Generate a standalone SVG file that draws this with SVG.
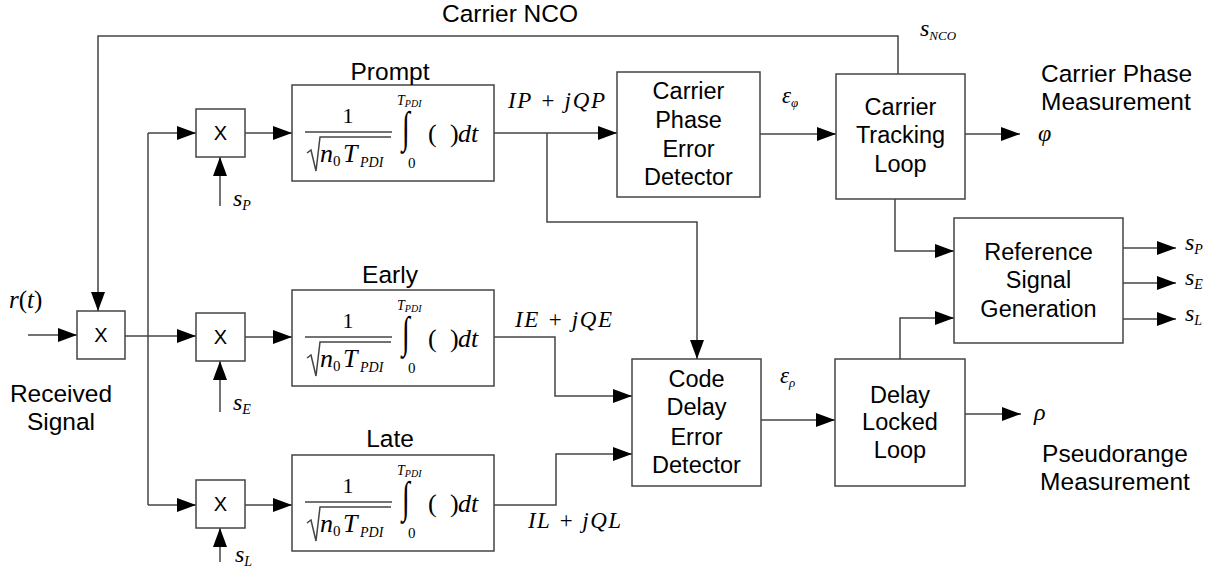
<svg xmlns="http://www.w3.org/2000/svg" width="1217" height="582" viewBox="0 0 1217 582">
<defs>
<marker id="arr" markerUnits="userSpaceOnUse" markerWidth="19" markerHeight="14" refX="19" refY="7" orient="auto">
<path d="M0,0 L19,7 L0,14 z" fill="#000"/>
</marker>
<style>
.box{fill:#fff;stroke:#444;stroke-width:1.5}
.ln{fill:none;stroke:#444;stroke-width:1.5}
.ar{fill:none;stroke:#444;stroke-width:1.5;marker-end:url(#arr)}
.lbl{font-family:"Liberation Sans",Arial,sans-serif;font-size:24.5px;fill:#000}
.bt{font-family:"Liberation Sans",Arial,sans-serif;font-size:23.5px;fill:#000;text-anchor:middle}
.mx{font-family:"Liberation Sans",Arial,sans-serif;font-size:20px;fill:#000;text-anchor:middle}
.m{font-family:"Liberation Serif","Times New Roman",serif;font-style:italic;fill:#000}
.r{font-family:"Liberation Serif","Times New Roman",serif;fill:#000}
</style>
</defs>
<rect width="1217" height="582" fill="#fff"/>

<g id="connectors">
<line class="ar" x1="28" y1="335" x2="77" y2="335"/>
<polyline class="ar" points="898,74 898,36 98,36 98,311"/>
<line class="ln" x1="125" y1="336" x2="148" y2="336"/>
<line class="ln" x1="148" y1="133" x2="148" y2="505"/>
<line class="ar" x1="148" y1="133" x2="196" y2="133"/>
<line class="ar" x1="148" y1="336" x2="196" y2="336"/>
<line class="ar" x1="148" y1="505" x2="196" y2="505"/>
<line class="ar" x1="220" y1="206" x2="220" y2="157"/>
<line class="ar" x1="220" y1="412" x2="220" y2="361"/>
<line class="ar" x1="220" y1="562" x2="220" y2="528"/>
<line class="ar" x1="245" y1="133" x2="292" y2="133"/>
<line class="ar" x1="245" y1="337" x2="292" y2="337"/>
<line class="ar" x1="245" y1="505" x2="292" y2="505"/>
<line class="ar" x1="494" y1="133" x2="617" y2="133"/>
<polyline class="ar" points="547,133 547,222 697,222 697,359"/>
<polyline class="ar" points="494,337 555,337 555,396 632,396"/>
<polyline class="ar" points="494,505 556,505 556,454 632,454"/>
<line class="ar" x1="760" y1="134" x2="836" y2="134"/>
<line class="ar" x1="761" y1="420" x2="835" y2="420"/>
<line class="ar" x1="965" y1="134" x2="1020" y2="134"/>
<polyline class="ar" points="895,199 895,251 954,251"/>
<polyline class="ar" points="900,359 900,318 954,318"/>
<line class="ar" x1="1123" y1="248" x2="1176" y2="248"/>
<line class="ar" x1="1123" y1="283" x2="1176" y2="283"/>
<line class="ar" x1="1123" y1="319" x2="1176" y2="319"/>
<line class="ar" x1="965" y1="414" x2="1021" y2="414"/>
</g>

<g id="mixer-main">
<rect class="box" x="77" y="311" width="48" height="48"/>
<text class="mx" x="101" y="342">X</text>
</g>
<g id="mixer-prompt">
<rect class="box" x="196" y="109" width="49" height="48"/>
<text class="mx" x="220.5" y="140">X</text>
</g>
<g id="mixer-early">
<rect class="box" x="196" y="313" width="49" height="48"/>
<text class="mx" x="220.5" y="344">X</text>
</g>
<g id="mixer-late">
<rect class="box" x="196" y="480" width="49" height="48"/>
<text class="mx" x="220.5" y="511">X</text>
</g>

<g id="integrator-prompt" transform="translate(292,85)">
<rect class="box" x="0" y="0" width="202" height="96"/>
<text class="r" x="56" y="38" font-size="22" text-anchor="middle">1</text>
<line class="ln" x1="13" y1="47" x2="100" y2="47" stroke-width="1.2"/>
<polyline class="ln" stroke-width="1.2" points="15,68 19,65 24,86 28,52 99,52"/>
<text class="m" x="28" y="77" font-size="26">n<tspan class="r" font-style="normal" font-size="15" x="41" dy="4">0</tspan><tspan font-size="26" x="51" dy="-4">T</tspan><tspan font-size="14" x="68" dy="5">PDI</tspan></text>
<text class="m" x="105" y="20" font-size="14">T<tspan font-size="10" dy="2">PDI</tspan></text>
<text class="r" transform="translate(110,57) scale(0.65,1)" x="0" y="0" font-size="44">∫</text>
<text class="r" x="116" y="83" font-size="15">0</text>
<text class="r" x="136" y="57" font-size="26">(</text>
<text class="r" x="158" y="57" font-size="26">)</text>
<text class="m" x="166" y="57" font-size="26">dt</text>
</g>
<g id="integrator-early" transform="translate(292,290)">
<rect class="box" x="0" y="0" width="202" height="96"/>
<text class="r" x="56" y="38" font-size="22" text-anchor="middle">1</text>
<line class="ln" x1="13" y1="47" x2="100" y2="47" stroke-width="1.2"/>
<polyline class="ln" stroke-width="1.2" points="15,68 19,65 24,86 28,52 99,52"/>
<text class="m" x="28" y="77" font-size="26">n<tspan class="r" font-style="normal" font-size="15" x="41" dy="4">0</tspan><tspan font-size="26" x="51" dy="-4">T</tspan><tspan font-size="14" x="68" dy="5">PDI</tspan></text>
<text class="m" x="105" y="20" font-size="14">T<tspan font-size="10" dy="2">PDI</tspan></text>
<text class="r" transform="translate(110,57) scale(0.65,1)" x="0" y="0" font-size="44">∫</text>
<text class="r" x="116" y="83" font-size="15">0</text>
<text class="r" x="136" y="57" font-size="26">(</text>
<text class="r" x="158" y="57" font-size="26">)</text>
<text class="m" x="166" y="57" font-size="26">dt</text>
</g>
<g id="integrator-late" transform="translate(292,455)">
<rect class="box" x="0" y="0" width="202" height="96"/>
<text class="r" x="56" y="38" font-size="22" text-anchor="middle">1</text>
<line class="ln" x1="13" y1="47" x2="100" y2="47" stroke-width="1.2"/>
<polyline class="ln" stroke-width="1.2" points="15,68 19,65 24,86 28,52 99,52"/>
<text class="m" x="28" y="77" font-size="26">n<tspan class="r" font-style="normal" font-size="15" x="41" dy="4">0</tspan><tspan font-size="26" x="51" dy="-4">T</tspan><tspan font-size="14" x="68" dy="5">PDI</tspan></text>
<text class="m" x="105" y="20" font-size="14">T<tspan font-size="10" dy="2">PDI</tspan></text>
<text class="r" transform="translate(110,57) scale(0.65,1)" x="0" y="0" font-size="44">∫</text>
<text class="r" x="116" y="83" font-size="15">0</text>
<text class="r" x="136" y="57" font-size="26">(</text>
<text class="r" x="158" y="57" font-size="26">)</text>
<text class="m" x="166" y="57" font-size="26">dt</text>
</g>

<g id="carrier-phase-error-detector">
<rect class="box" x="617" y="72" width="143" height="125"/>
<text class="bt" x="688.5" y="99">Carrier</text>
<text class="bt" x="688.5" y="128">Phase</text>
<text class="bt" x="688.5" y="157">Error</text>
<text class="bt" x="688.5" y="185">Detector</text>
</g>
<g id="carrier-tracking-loop">
<rect class="box" x="836" y="74" width="129" height="125"/>
<text class="bt" x="900.5" y="115">Carrier</text>
<text class="bt" x="900.5" y="143">Tracking</text>
<text class="bt" x="900.5" y="172">Loop</text>
</g>
<g id="reference-signal-generation">
<rect class="box" x="954" y="218" width="169" height="125"/>
<text class="bt" x="1038.5" y="260">Reference</text>
<text class="bt" x="1038.5" y="288">Signal</text>
<text class="bt" x="1038.5" y="317">Generation</text>
</g>
<g id="code-delay-error-detector">
<rect class="box" x="632" y="359" width="129" height="127"/>
<text class="bt" x="696.5" y="387">Code</text>
<text class="bt" x="696.5" y="415">Delay</text>
<text class="bt" x="696.5" y="445">Error</text>
<text class="bt" x="696.5" y="473">Detector</text>
</g>
<g id="delay-locked-loop">
<rect class="box" x="835" y="359" width="130" height="127"/>
<text class="bt" x="900" y="403">Delay</text>
<text class="bt" x="900" y="430">Locked</text>
<text class="bt" x="900" y="458">Loop</text>
</g>

<g id="labels">
<text class="lbl" x="510" y="22" text-anchor="middle">Carrier NCO</text>
<text class="lbl" x="390" y="80" text-anchor="middle">Prompt</text>
<text class="lbl" x="390" y="283" text-anchor="middle">Early</text>
<text class="lbl" x="390" y="447" text-anchor="middle">Late</text>
<text class="lbl" x="61" y="402" text-anchor="middle">Received</text>
<text class="lbl" x="61" y="430" text-anchor="middle">Signal</text>
<text class="lbl" x="1041" y="82">Carrier Phase</text>
<text class="lbl" x="1041" y="110">Measurement</text>
<text class="lbl" x="1115" y="462" text-anchor="middle">Pseudorange</text>
<text class="lbl" x="1115" y="490" text-anchor="middle">Measurement</text>

<text class="m" x="9" y="308" font-size="25">r<tspan class="r" font-style="normal">(</tspan>t<tspan class="r" font-style="normal">)</tspan></text>
<text class="m" x="233" y="206" font-size="24">s<tspan font-size="14" dy="4">P</tspan></text>
<text class="m" x="233" y="410" font-size="24">s<tspan font-size="14" dy="4">E</tspan></text>
<text class="m" x="235" y="562" font-size="24">s<tspan font-size="14" dy="4">L</tspan></text>
<text class="m" x="508" y="108" font-size="23" textLength="97" lengthAdjust="spacing" xml:space="preserve">IP + jQP</text>
<text class="m" x="515" y="327" font-size="23" textLength="97" lengthAdjust="spacing" xml:space="preserve">IE + jQE</text>
<text class="m" x="528" y="528" font-size="23" textLength="93" lengthAdjust="spacing" xml:space="preserve">IL + jQL</text>
<text class="m" x="782" y="103" font-size="23">ε<tspan font-size="13" dy="4">φ</tspan></text>
<text class="m" x="780" y="383" font-size="23">ε<tspan font-size="13" dy="4">ρ</tspan></text>
<text class="m" x="920" y="36" font-size="24">s<tspan font-size="13" dy="4">NCO</tspan></text>
<text class="m" x="1038" y="141" font-size="24">φ</text>
<text class="m" x="1034" y="420" font-size="24">ρ</text>
<text class="m" x="1185" y="250" font-size="24">s<tspan font-size="14" dy="4">P</tspan></text>
<text class="m" x="1185" y="285" font-size="24">s<tspan font-size="14" dy="4">E</tspan></text>
<text class="m" x="1185" y="321" font-size="24">s<tspan font-size="14" dy="4">L</tspan></text>
</g>
</svg>
